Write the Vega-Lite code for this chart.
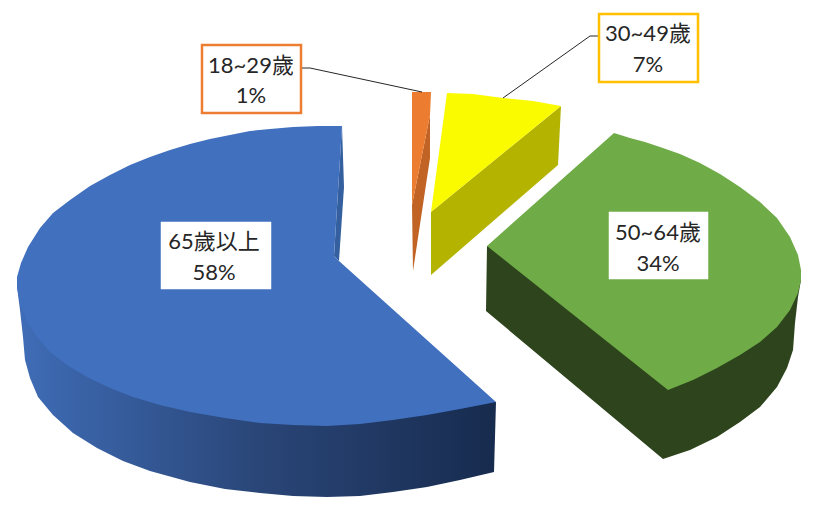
{
  "$schema": "https://vega.github.io/schema/vega-lite/v6.json",
  "width": 814,
  "height": 506,
  "padding": 0,
  "autosize": {"type": "none"},
  "background": "white",
  "config": {"view": {"stroke": null}},
  "datasets": {
    "faces": [
      {"piece":"blue side","n":1,"x":17,"y":287},{"piece":"blue side","n":2,"x":20,"y":310},{"piece":"blue side","n":3,"x":23,"y":337},{"piece":"blue side","n":4,"x":25,"y":360},{"piece":"blue side","n":5,"x":30,"y":378},{"piece":"blue side","n":6,"x":38,"y":397},{"piece":"blue side","n":7,"x":53,"y":415},{"piece":"blue side","n":8,"x":73,"y":433},{"piece":"blue side","n":9,"x":97,"y":448},{"piece":"blue side","n":10,"x":123,"y":461},{"piece":"blue side","n":11,"x":150,"y":471},{"piece":"blue side","n":12,"x":190,"y":482},{"piece":"blue side","n":13,"x":225,"y":489},{"piece":"blue side","n":14,"x":260,"y":493},{"piece":"blue side","n":15,"x":293,"y":496},{"piece":"blue side","n":16,"x":327,"y":497},{"piece":"blue side","n":17,"x":360,"y":496},{"piece":"blue side","n":18,"x":393,"y":492},{"piece":"blue side","n":19,"x":427,"y":487},{"piece":"blue side","n":20,"x":460,"y":480},{"piece":"blue side","n":21,"x":494,"y":472},{"piece":"blue side","n":22,"x":496,"y":402},{"piece":"blue side","n":23,"x":327,"y":400},{"piece":"blue side","n":24,"x":17,"y":287},

      {"piece":"blue wall","n":1,"x":342,"y":126},{"piece":"blue wall","n":2,"x":344,"y":187},{"piece":"blue wall","n":3,"x":339,"y":261},{"piece":"blue wall","n":4,"x":334,"y":256},

      {"piece":"blue top","n":1,"x":342,"y":126},{"piece":"blue top","n":2,"x":318,"y":126},{"piece":"blue top","n":3,"x":293,"y":127},{"piece":"blue top","n":4,"x":270,"y":129},{"piece":"blue top","n":5,"x":250,"y":131},{"piece":"blue top","n":6,"x":230,"y":135},{"piece":"blue top","n":7,"x":210,"y":139},{"piece":"blue top","n":8,"x":190,"y":144},{"piece":"blue top","n":9,"x":170,"y":150},{"piece":"blue top","n":10,"x":150,"y":157},{"piece":"blue top","n":11,"x":130,"y":165},{"piece":"blue top","n":12,"x":110,"y":175},{"piece":"blue top","n":13,"x":90,"y":186},{"piece":"blue top","n":14,"x":70,"y":200},{"piece":"blue top","n":15,"x":53,"y":213},{"piece":"blue top","n":16,"x":40,"y":228},{"piece":"blue top","n":17,"x":28,"y":247},{"piece":"blue top","n":18,"x":21,"y":263},{"piece":"blue top","n":19,"x":17,"y":277},{"piece":"blue top","n":20,"x":17,"y":287},{"piece":"blue top","n":21,"x":20,"y":303},{"piece":"blue top","n":22,"x":27,"y":322},{"piece":"blue top","n":23,"x":37,"y":337},{"piece":"blue top","n":24,"x":50,"y":352},{"piece":"blue top","n":25,"x":67,"y":365},{"piece":"blue top","n":26,"x":87,"y":377},{"piece":"blue top","n":27,"x":110,"y":388},{"piece":"blue top","n":28,"x":133,"y":397},{"piece":"blue top","n":29,"x":160,"y":405},{"piece":"blue top","n":30,"x":190,"y":412},{"piece":"blue top","n":31,"x":225,"y":418},{"piece":"blue top","n":32,"x":260,"y":423},{"piece":"blue top","n":33,"x":293,"y":425},{"piece":"blue top","n":34,"x":327,"y":426},{"piece":"blue top","n":35,"x":360,"y":424},{"piece":"blue top","n":36,"x":393,"y":420},{"piece":"blue top","n":37,"x":427,"y":415},{"piece":"blue top","n":38,"x":460,"y":409},{"piece":"blue top","n":39,"x":496,"y":402},{"piece":"blue top","n":40,"x":339,"y":261},{"piece":"blue top","n":41,"x":334,"y":256},{"piece":"blue top","n":42,"x":342,"y":126},

      {"piece":"green side","n":1,"x":487,"y":246},{"piece":"green side","n":2,"x":486,"y":311},{"piece":"green side","n":3,"x":663,"y":459},{"piece":"green side","n":4,"x":690,"y":450},{"piece":"green side","n":5,"x":717,"y":437},{"piece":"green side","n":6,"x":740,"y":422},{"piece":"green side","n":7,"x":760,"y":407},{"piece":"green side","n":8,"x":777,"y":387},{"piece":"green side","n":9,"x":787,"y":368},{"piece":"green side","n":10,"x":793,"y":350},{"piece":"green side","n":11,"x":795,"y":323},{"piece":"green side","n":12,"x":798,"y":297},{"piece":"green side","n":13,"x":801,"y":280},{"piece":"green side","n":14,"x":668,"y":300},

      {"piece":"green top","n":1,"x":614,"y":133},{"piece":"green top","n":2,"x":630,"y":138},{"piece":"green top","n":3,"x":645,"y":142},{"piece":"green top","n":4,"x":660,"y":147},{"piece":"green top","n":5,"x":680,"y":154},{"piece":"green top","n":6,"x":700,"y":163},{"piece":"green top","n":7,"x":720,"y":174},{"piece":"green top","n":8,"x":740,"y":187},{"piece":"green top","n":9,"x":760,"y":202},{"piece":"green top","n":10,"x":777,"y":218},{"piece":"green top","n":11,"x":790,"y":237},{"piece":"green top","n":12,"x":798,"y":255},{"piece":"green top","n":13,"x":801,"y":270},{"piece":"green top","n":14,"x":801,"y":280},{"piece":"green top","n":15,"x":798,"y":293},{"piece":"green top","n":16,"x":790,"y":310},{"piece":"green top","n":17,"x":777,"y":327},{"piece":"green top","n":18,"x":760,"y":342},{"piece":"green top","n":19,"x":740,"y":355},{"piece":"green top","n":20,"x":717,"y":368},{"piece":"green top","n":21,"x":693,"y":380},{"piece":"green top","n":22,"x":668,"y":390},{"piece":"green top","n":23,"x":487,"y":246},

      {"piece":"yellow side","n":1,"x":431,"y":212},{"piece":"yellow side","n":2,"x":431,"y":275},{"piece":"yellow side","n":3,"x":558,"y":165},{"piece":"yellow side","n":4,"x":561,"y":106},

      {"piece":"yellow top","n":1,"x":447,"y":93},{"piece":"yellow top","n":2,"x":473,"y":94},{"piece":"yellow top","n":3,"x":503,"y":98},{"piece":"yellow top","n":4,"x":533,"y":101},{"piece":"yellow top","n":5,"x":561,"y":106},{"piece":"yellow top","n":6,"x":431,"y":212},

      {"piece":"orange side","n":1,"x":430,"y":115},{"piece":"orange side","n":2,"x":430,"y":158},{"piece":"orange side","n":3,"x":413,"y":271},{"piece":"orange side","n":4,"x":412,"y":205},

      {"piece":"orange top","n":1,"x":412,"y":92},{"piece":"orange top","n":2,"x":431,"y":92},{"piece":"orange top","n":3,"x":430,"y":115},{"piece":"orange top","n":4,"x":412,"y":205}
    ],
    "labels": [
      {"age":"65歲以上","share":0.58,"cx":214,"left":162,"right":270,"top":223,"bottom":288,"ageY":242,"shareY":273},
      {"age":"50~64歲","share":0.34,"cx":658,"left":610,"right":707,"top":213,"bottom":278,"ageY":233,"shareY":264},
      {"age":"30~49歲","share":0.07,"cx":648,"left":599,"right":698,"top":14,"bottom":82,"ageY":34,"shareY":65},
      {"age":"18~29歲","share":0.01,"cx":251,"left":202,"right":301,"top":45,"bottom":113,"ageY":66,"shareY":96}
    ],
    "leaders": [
      {"age":"18~29歲","n":1,"x":301,"y":68},{"age":"18~29歲","n":2,"x":310,"y":68},{"age":"18~29歲","n":3,"x":422,"y":92},
      {"age":"30~49歲","n":1,"x":599,"y":36},{"age":"30~49歲","n":2,"x":590,"y":36},{"age":"30~49歲","n":3,"x":503,"y":98}
    ]
  },
  "data": {"name": "faces"},
  "encoding": {
    "x": {"field": "x", "type": "quantitative", "axis": null, "scale": {"domain": [0, 814], "nice": false, "zero": false}},
    "y": {"field": "y", "type": "quantitative", "axis": null, "scale": {"domain": [506, 0], "nice": false, "zero": false}}
  },
  "layer": [
    {
      "transform": [{"filter": "datum.piece == 'blue side'"}],
      "mark": {
        "type": "line",
        "strokeWidth": 0,
        "fill": {
          "gradient": "linear", "x1": 0, "y1": 0, "x2": 1, "y2": 0,
          "stops": [
            {"offset": 0, "color": "#3f6db7"},
            {"offset": 0.5, "color": "#2a4678"},
            {"offset": 1, "color": "#172b4e"}
          ]
        }
      },
      "encoding": {"order": {"field": "n", "type": "quantitative"}}
    },
    {
      "transform": [{"filter": "datum.piece != 'blue side'"}],
      "mark": {"type": "line", "filled": true, "strokeWidth": 0},
      "encoding": {
        "color": {
          "field": "piece",
          "type": "nominal",
          "legend": null,
          "scale": {
            "domain": ["blue wall", "blue top", "green side", "green top", "yellow side", "yellow top", "orange side", "orange top"],
            "range": ["#35609f", "#4170bf", "#2d441c", "#6fac47", "#b3b300", "#fbfb00", "#c16324", "#ec7c30"]
          }
        },
        "order": {"field": "n", "type": "quantitative"}
      }
    },
    {
      "data": {"name": "leaders"},
      "mark": {"type": "line", "color": "#262626", "strokeWidth": 1},
      "encoding": {
        "detail": {"field": "age"},
        "order": {"field": "n", "type": "quantitative"}
      }
    },
    {
      "data": {"name": "labels"},
      "mark": {"type": "rect", "fill": "white", "strokeWidth": 2.5},
      "encoding": {
        "x": {"field": "left", "type": "quantitative"},
        "x2": {"field": "right"},
        "y": {"field": "top", "type": "quantitative"},
        "y2": {"field": "bottom"},
        "stroke": {
          "field": "age",
          "type": "nominal",
          "legend": null,
          "scale": {
            "domain": ["65歲以上", "50~64歲", "30~49歲", "18~29歲"],
            "range": ["#ffffff", "#ffffff", "#ffc000", "#ed7d31"]
          }
        }
      }
    },
    {
      "data": {"name": "labels"},
      "mark": {"type": "text", "font": "Lato, Noto Sans CJK TC", "fontSize": 22, "color": "#262626", "baseline": "middle"},
      "encoding": {
        "x": {"field": "cx", "type": "quantitative"},
        "y": {"field": "ageY", "type": "quantitative"},
        "text": {"field": "age"}
      }
    },
    {
      "data": {"name": "labels"},
      "mark": {"type": "text", "font": "Lato, Noto Sans CJK TC", "fontSize": 22, "color": "#262626", "baseline": "middle"},
      "encoding": {
        "x": {"field": "cx", "type": "quantitative"},
        "y": {"field": "shareY", "type": "quantitative"},
        "text": {"field": "share", "type": "quantitative", "format": ".0%"}
      }
    }
  ]
}
